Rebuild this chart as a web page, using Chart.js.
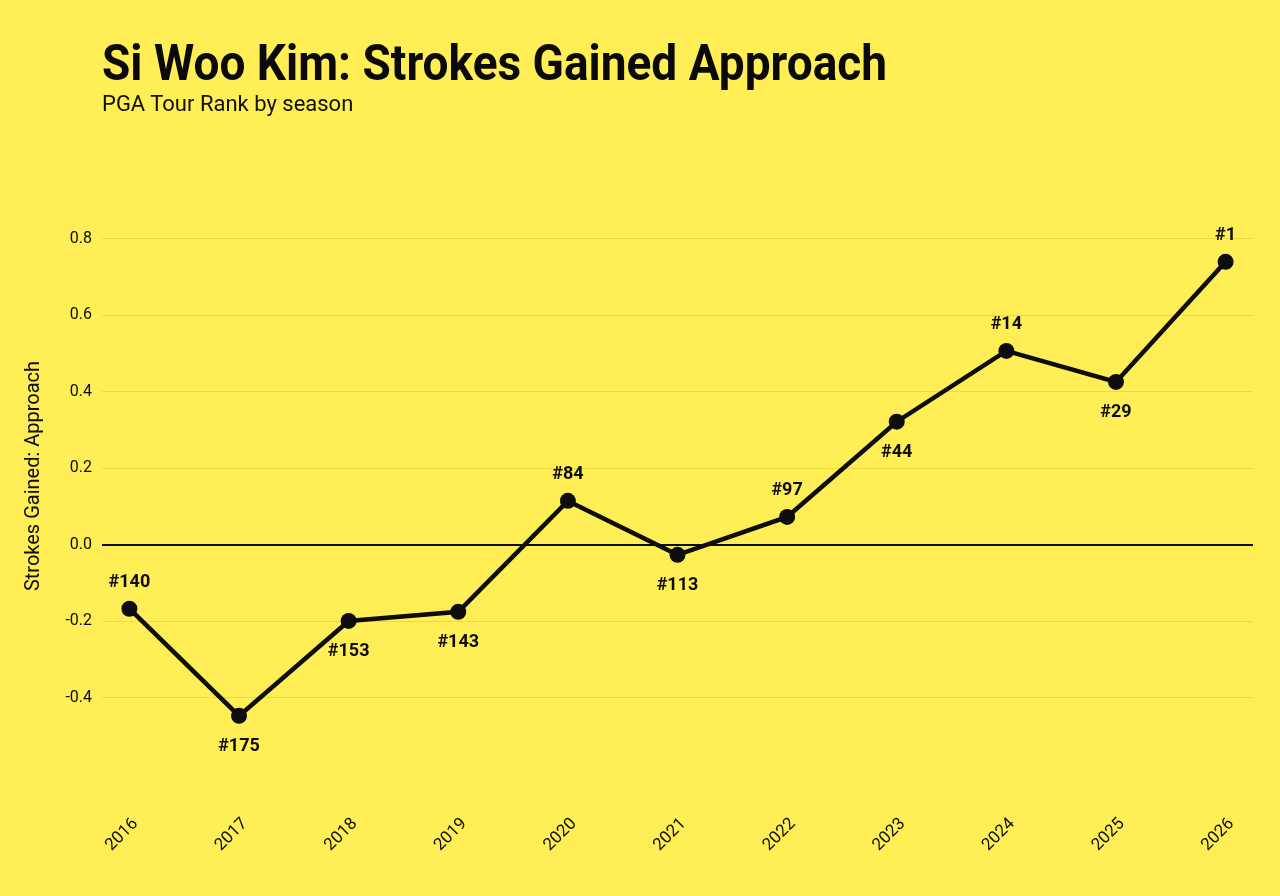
<!DOCTYPE html>
<html>
<head>
<meta charset="utf-8">
<script src="https://cdn.jsdelivr.net/npm/chart.js@4"></script>
<style>
  html, body { margin: 0; padding: 0; background: #FFEE55; }
  #wrap { position: relative; width: 1280px; height: 896px; overflow: hidden; background: #FFEE55; }
  #title { position: absolute; left: 102px; top: 34px; font-family: "Roboto", sans-serif; font-weight: 700; font-size: 50px; color: #0a0a0a; white-space: nowrap; transform: scaleX(0.92); transform-origin: 0 0; }
  #subtitle { position: absolute; left: 102px; top: 91px; font-family: "Roboto", sans-serif; font-size: 22px; color: #111; white-space: nowrap; }
  canvas { position: absolute; left: 0; top: 0; }
</style>
</head>
<body>
<div id="wrap">
  <canvas id="c" width="1280" height="896"></canvas>
  <div id="title">Si Woo Kim: Strokes Gained Approach</div>
  <div id="subtitle">PGA Tour Rank by season</div>
</div>
<script>
const seasons = [2016, 2017, 2018, 2019, 2020, 2021, 2022, 2023, 2024, 2025, 2026];
const sgApproach = [-0.167, -0.447, -0.199, -0.175, 0.115, -0.026, 0.073, 0.322, 0.507, 0.426, 0.740];
const tourRank = [140, 175, 153, 143, 84, 113, 97, 44, 14, 29, 1];
const labelSide = ['above', 'below', 'below', 'below', 'above', 'below', 'above', 'below', 'above', 'below', 'above'];
const yTickValues = [-0.4, -0.2, 0.0, 0.2, 0.4, 0.6, 0.8];

const INK = '#0d0d0d';

const rankLabels = {
  id: 'rankLabels',
  afterDatasetsDraw(chart) {
    const ctx = chart.ctx;
    const meta = chart.getDatasetMeta(0);
    ctx.save();
    ctx.fillStyle = INK;
    ctx.font = '700 18px Roboto, sans-serif';
    ctx.textAlign = 'center';
    ctx.textBaseline = 'middle';
    meta.data.forEach((pt, i) => {
      const off = labelSide[i] === 'above' ? -26 : 31;
      ctx.fillText('#' + tourRank[i], pt.x, pt.y + off);
    });
    ctx.restore();
  }
};

new Chart(document.getElementById('c'), {
  type: 'line',
  data: {
    datasets: [{
      data: seasons.map((s, i) => ({ x: s, y: sgApproach[i] })),
      borderColor: INK,
      backgroundColor: INK,
      borderWidth: 4.5,
      pointRadius: 8,
      pointHoverRadius: 8,
      pointBackgroundColor: INK,
      pointBorderColor: INK,
      pointBorderWidth: 0,
      tension: 0,
      clip: false
    }]
  },
  options: {
    responsive: false,
    animation: false,
    devicePixelRatio: 1,
    layout: { padding: { top: 170, right: 27, left: 0, bottom: 0 } },
    plugins: { legend: { display: false }, tooltip: { enabled: false } },
    scales: {
      x: {
        type: 'linear',
        min: 2015.75,
        max: 2026.25,
        afterBuildTicks: (s) => { s.ticks = seasons.map(v => ({ value: v })); },
        afterFit: (s) => { s.height = 114; },
        grid: { display: false, drawTicks: false },
        border: { display: false },
        ticks: {
          minRotation: 45, maxRotation: 45,
          padding: 32,
          labelOffset: 6,
          color: INK,
          font: { family: 'Roboto, sans-serif', size: 17 },
          callback: (v) => String(v)
        }
      },
      y: {
        min: -0.62,
        max: 0.98,
        afterBuildTicks: (s) => { s.ticks = yTickValues.map(v => ({ value: v })); },
        afterFit: (s) => { s.width = 102; },
        grid: {
          drawTicks: false,
          color: (c) => (c.tick && Math.abs(c.tick.value) < 1e-9) ? INK : 'rgba(150,130,0,0.18)',
          lineWidth: (c) => (c.tick && Math.abs(c.tick.value) < 1e-9) ? 2 : 1
        },
        border: { display: false },
        ticks: {
          padding: 10,
          color: INK,
          font: { family: 'Roboto, sans-serif', size: 16 },
          callback: (v) => Number(v).toFixed(1)
        },
        title: {
          display: true,
          text: 'Strokes Gained: Approach',
          color: INK,
          font: { family: 'Roboto, sans-serif', size: 20 },
          padding: { top: 22, bottom: 0 }
        }
      }
    }
  },
  plugins: [rankLabels]
});
</script>
</body>
</html>
